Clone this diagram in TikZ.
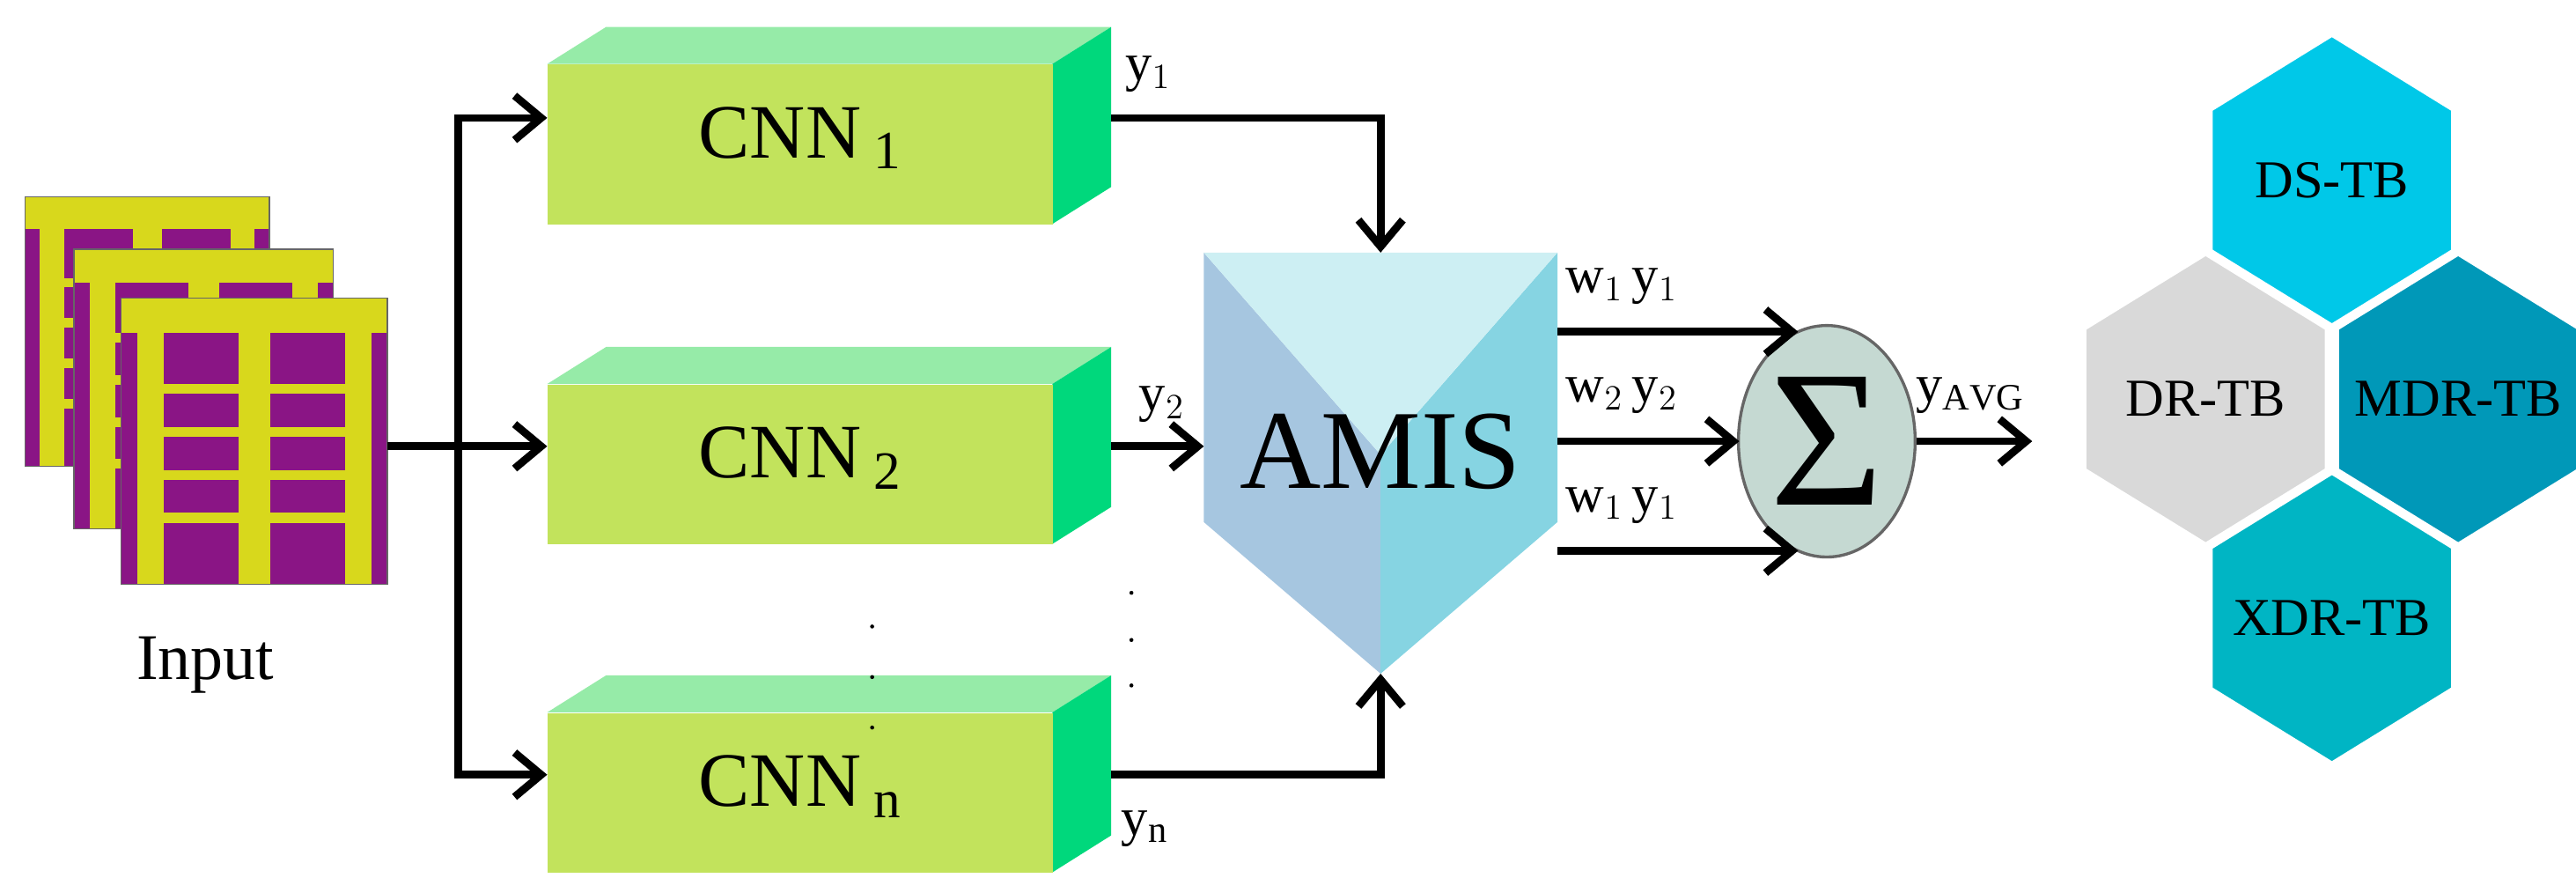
\documentclass[tikz,border=0pt]{standalone}
\usepackage{fontspec}
\setmainfont{Liberation Serif}
\usetikzlibrary{arrows.meta,shapes.geometric,calc}
\definecolor{cfront}{HTML}{C2E35C}
\definecolor{ctop}{HTML}{96EBA8}
\definecolor{cside}{HTML}{00D87C}
\definecolor{amL}{HTML}{A6C6E0}
\definecolor{amR}{HTML}{86D4E2}
\definecolor{amT}{HTML}{CDEFF3}
\definecolor{sumc}{HTML}{C5D9D2}
\definecolor{hDS}{HTML}{00C8E8}
\definecolor{hDR}{HTML}{D9D9D9}
\definecolor{hMDR}{HTML}{0098B8}
\definecolor{hXDR}{HTML}{00B5C4}
\definecolor{xpur}{HTML}{8A1585}
\definecolor{xyel}{HTML}{D8D81C}
\begin{document}
\begin{tikzpicture}[x=0.02cm,y=-0.02cm,
  arr/.style={line width=2.6pt,-{Straight Barb[length=9pt,width=15pt,line width=2.6pt]}},
  ln/.style={line width=2.6pt},
  front/.style={fill=cfront,draw=none,minimum width=6cm,minimum height=1.9cm,inner sep=0},
  lab/.style={font=\fontsize{18}{18}\selectfont,inner sep=1pt},
  hext/.style={font=\fontsize{18}{18}\selectfont,inner sep=0}]
\useasboundingbox (0,0) rectangle (1530,521);
% input images
\foreach \x/\y/\w/\h in {15/117/145/160,44/148/154/166,72/177/158/170}{
  \fill[xpur] (\x,\y) rectangle ++(\w,\h);
  \fill[xyel] (\x+0.44*\w,\y) rectangle ++(0.12*\w,\h);
  \fill[xyel] (\x,\y) rectangle ++(\w,0.12*\h);
  \fill[xyel] (\x+0.06*\w,\y) rectangle ++(0.1*\w,\h);
  \fill[xyel] (\x+0.84*\w,\y) rectangle ++(0.1*\w,\h);
  \foreach \k in {0.3,0.45,0.6,0.75}{\fill[xyel] (\x+0.16*\w,\y+\k*\h) rectangle ++(0.68*\w,0.035*\h);}
  \draw[black!60,line width=0.4pt] (\x,\y) rectangle ++(\w,\h);
}
\coordinate (img) at (230,265);
\node[font=\fontsize{22}{22}\selectfont] (inp) at (122,395) {Input};
% CNN boxes
\foreach \n/\t/\s in {c1/38/1,c2/228/2,cn/423/n}{
  \fill[ctop] (325,\t) -- (360,\t-22) -- (660,\t-22) -- (625,\t) -- cycle;
  \fill[cside] (625,\t) -- (660,\t-22) -- (660,\t+73) -- (625,\t+95) -- cycle;
  \node[front,anchor=north west] (\n) at (325,\t) {};
  \node[font=\fontsize{26}{26}\selectfont] at ($(\n)+(0,-4)$) {CNN$\,_{\fontsize{18}{18}\selectfont\mathrm{\s}}$};
}
\coordinate (f) at (272,265);
\coordinate (o1) at (660,70);
\coordinate (o2) at (660,265);
\coordinate (on) at (660,460);
% fork
\draw[ln] (img) -- (f);
\draw[arr] (f) |- (325,70);
\draw[arr] (f) -- (325,265);
\draw[arr] (f) |- (325,460);
% AMIS
\coordinate (aT) at (820,150);
\coordinate (aB) at (820,400);
\coordinate (aL) at (715,265);
\fill[amL] (715,150) -- (820,270) -- (820,400) -- (715,310) -- cycle;
\fill[amR] (925,150) -- (820,270) -- (820,400) -- (925,310) -- cycle;
\fill[amT] (715,150) -- (925,150) -- (820,270) -- cycle;
\node[font=\fontsize{38}{38}\selectfont] (amis) at (820,268) {AMIS};
\draw[arr] (o1) -| (aT);
\draw[arr] (o2) -- (aL);
\draw[arr] (on) -| (aB);
\node[lab] at (682,44) {y$_{1}$};
\node[lab] at (690,240) {y$_{2}$};
\node[lab] at (680,492) {y$_{\mathrm{n}}$};
\foreach \yy in {372,402,432}{\fill (518,\yy) circle (1.2);}
\foreach \yy in {352,380,407}{\fill (672,\yy) circle (1.2);}
% sum
\node[ellipse,draw=black!60,line width=1pt,fill=sumc,minimum width=2.1cm,minimum height=2.75cm,inner sep=0] (sum) at (1085,262) {\fontsize{66}{66}\selectfont Σ};
\coordinate (w1) at (925,197);
\coordinate (w2) at (925,262);
\coordinate (w3) at (925,327);
\draw[arr] (w1) -- (1068,197);
\draw[arr] (w2) -- (1033,262);
\draw[arr] (w3) -- (1068,327);
\node[lab,anchor=west] at (928,170) {w$_1$\,y$_1$};
\node[lab,anchor=west] at (928,235) {w$_2$\,y$_2$};
\node[lab,anchor=west] at (928,300) {w$_1$\,y$_1$};
% hexagons
\foreach \n/\cx/\cy/\c/\t in {ds/1385/107/hDS/DS-TB,dr/1310/237/hDR/DR-TB,mdr/1460/237/hMDR/MDR-TB,xdr/1385/367/hXDR/XDR-TB}{
  \fill[\c,draw=white,line width=2.5pt] (\cx,\cy-87.5) -- (\cx+73,\cy-42.5) -- (\cx+73,\cy+42.5) -- (\cx,\cy+87.5) -- (\cx-73,\cy+42.5) -- (\cx-73,\cy-42.5) -- cycle;
  \node[hext] (\n) at (\cx,\cy) {\t};
}
\draw[arr] (sum.east) -- (1207,262);
\node[lab,anchor=west] at (1136,235) {y$_{\fontsize{9}{9}\selectfont\mathrm{AVG}}$};
\end{tikzpicture}
\end{document}
